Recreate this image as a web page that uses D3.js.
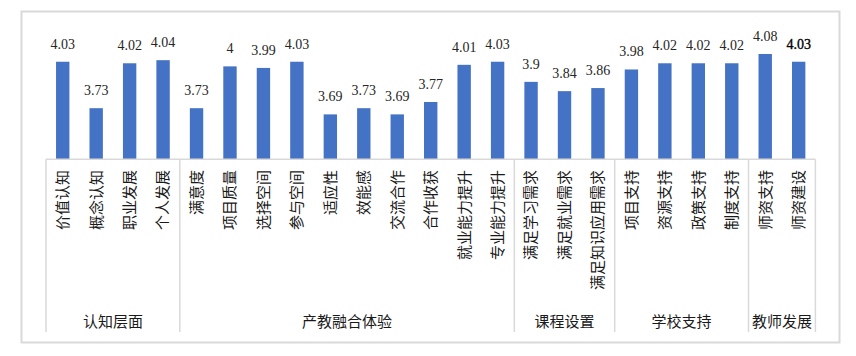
<!DOCTYPE html>
<html><head><meta charset="utf-8">
<script src="https://cdn.jsdelivr.net/npm/d3@7"></script>
<style>html,body{margin:0;padding:0;background:#fff;}svg{display:block;}</style>
</head><body>
<svg id="chart" width="856" height="356"></svg>
<script>
const categories = ["价值认知","概念认知","职业发展","个人发展",
  "满意度","项目质量","选择空间","参与空间","适应性","效能感","交流合作","合作收获","就业能力提升","专业能力提升",
  "满足学习需求","满足就业需求","满足知识应用需求",
  "项目支持","资源支持","政策支持","制度支持",
  "师资支持","师资建设"];
const values = [4.03,3.73,4.02,4.04,
  3.73,4,3.99,4.03,3.69,3.73,3.69,3.77,4.01,4.03,
  3.9,3.84,3.86,
  3.98,4.02,4.02,4.02,
  4.08,4.03];
const valueLabels = ["4.03","3.73","4.02","4.04",
  "3.73","4","3.99","4.03","3.69","3.73","3.69","3.77","4.01","4.03",
  "3.9","3.84","3.86",
  "3.98","4.02","4.02","4.02",
  "4.08","4.03"];
const groups = ["认知层面","产教融合体验","课程设置","学校支持","教师发展"];
const groupSizes = [4,10,3,4,2];
const yDomain = [3.4, 4.2];

const svg = d3.select("#chart");
const cjk = "'Noto Sans CJK SC', 'Noto Sans', sans-serif";
const serif = "'Liberation Serif', 'Times New Roman', serif";

// outer frame
svg.append("rect").attr("x",21.5).attr("y",11.5).attr("width",818).attr("height",331)
  .attr("fill","#fff").attr("stroke","#d9d9d9").attr("stroke-width",2);

const x = d3.scaleBand().domain(categories).range([46, 815.4]).padding(0);
const bw = x.bandwidth();
const barW = bw * 0.4;
const cx = d => x(d) + bw / 2;
const y = d3.scaleLinear().domain(yDomain).range([159.3, 35.4]);

// bars
svg.append("g").selectAll("rect").data(categories).join("rect")
  .attr("x", d => cx(d) - barW / 2)
  .attr("y", (d,i) => y(values[i]))
  .attr("width", barW)
  .attr("height", (d,i) => y(yDomain[0]) - y(values[i]))
  .attr("fill","#4472C4");

// value labels
const last = categories.length - 1;
svg.append("g").selectAll("text").data(categories).join("text")
  .attr("x", d => cx(d))
  .attr("y", (d,i) => y(values[i]) - 13)
  .attr("text-anchor","middle")
  .attr("font-family", serif).attr("font-size", 14)
  .attr("fill", (d,i) => i === last ? "#000" : "#262626")
  .attr("stroke", (d,i) => i === last ? "#000" : "none")
  .attr("stroke-width", 0.35)
  .text((d,i) => valueLabels[i]);

// axis line and group dividers
const axisG = svg.append("g").attr("stroke","#d9d9d9").attr("stroke-width",1.5);
axisG.append("line").attr("x1",x.range()[0]).attr("x2",x.range()[1]).attr("y1",y(yDomain[0])).attr("y2",y(yDomain[0]));

let cum = 0;
const bounds = [0];
groupSizes.forEach(s => { cum += s; bounds.push(cum); });
const boundX = b => b < categories.length ? x(categories[b]) : x.range()[1];
bounds.forEach(b => {
  const bx = boundX(b);
  axisG.append("line").attr("x1",bx).attr("x2",bx).attr("y1",y(yDomain[0])).attr("y2",332);
});

// category labels (rotated -90)
svg.append("g").selectAll("text").data(categories).join("text")
  .attr("transform", d => `translate(${cx(d)},170) rotate(-90)`)
  .attr("text-anchor","end")
  .attr("dy","0.36em")
  .attr("font-family", cjk).attr("font-size", 15)
  .attr("fill","#1a1a1a")
  .text(d => d);

// group labels
svg.append("g").selectAll("text").data(groups).join("text")
  .attr("x", (g,i) => (boundX(bounds[i]) + boundX(bounds[i+1])) / 2)
  .attr("y", 327)
  .attr("text-anchor","middle")
  .attr("font-family", cjk).attr("font-size", 15)
  .attr("fill","#1a1a1a")
  .text(g => g);
</script>
</body></html>
